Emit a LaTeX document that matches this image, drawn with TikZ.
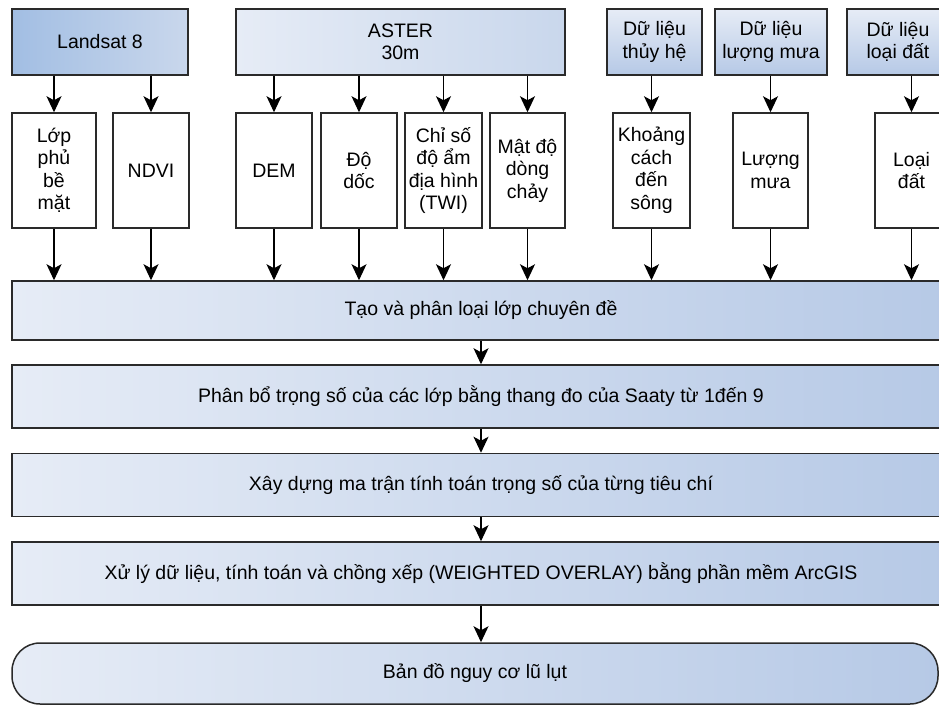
\documentclass[tikz,border=0pt]{standalone}
\usepackage{fontspec}
\setmainfont{Liberation Sans}
\usepackage{tikz}
\usepackage{xcolor}
\usetikzlibrary{arrows.meta,positioning,shapes,calc}
\definecolor{ink}{HTML}{2A2A2A}
\definecolor{bluedeep}{HTML}{A2BEE3}
\definecolor{bluemid}{HTML}{B6C9E6}
\definecolor{bluesoft}{HTML}{C9D7EC}
\definecolor{bluepale}{HTML}{E6ECF6}
\tikzset{
  srcbox/.style={draw=ink,line width=1.5pt,align=center,
                 font=\fontsize{19.5}{22.5}\selectfont,inner sep=2pt},
  layerbox/.style={draw=ink,fill=white,line width=1.5pt,align=center,
                   minimum height=115pt,inner sep=1pt,
                   font=\fontsize{19.5}{22.5}\selectfont},
  stagebox/.style={draw=ink,line width=1.5pt,align=center,
                   minimum width=938pt,minimum height=63pt,
                   left color=bluepale,right color=bluemid,
                   font=\fontsize{19.5}{22.5}\selectfont},
  endbox/.style={draw=ink,line width=1.5pt,align=center,rounded corners=28pt,
                 minimum width=926pt,minimum height=61pt,
                 left color=bluepale,right color=bluemid,
                 font=\fontsize{19.5}{22.5}\selectfont},
  flowarr/.style={-{Stealth[length=16pt,width=15pt,inset=4pt]},line width=1.2pt,color=black}
}

\begin{document}
\begin{tikzpicture}[x=1pt,y=-1pt]
  \useasboundingbox (0,0) rectangle (939,706);

  % data sources
  \node[srcbox,minimum width=176pt,minimum height=66pt,left color=bluedeep,right color=bluesoft]
    (landsat) at (100,42) {Landsat 8};
  \node[srcbox,minimum width=329pt,minimum height=66pt,left color=bluepale,right color=bluesoft]
    (aster) at (400.5,42) {ASTER\\30m};
  \node[srcbox,minimum width=95pt,minimum height=66pt,top color=bluepale,bottom color=bluemid]
    (hydro) at (654.5,42) {Dữ liệu\\thủy hệ};
  \node[srcbox,minimum width=112pt,minimum height=66pt,top color=bluepale,bottom color=bluemid]
    (rainsrc) at (771,42) {Dữ liệu\\lượng mưa};
  \node[srcbox,minimum width=102pt,minimum height=66pt,top color=bluepale,bottom color=bluemid]
    (soilsrc) at (898,42) {Dữ liệu\\loại đất};

  % thematic layers
  \node[layerbox,minimum width=84pt] (cover) at (54,170.5) {Lớp\\phủ\\bề\\mặt};
  \node[layerbox,minimum width=76pt] (ndvi) at (151,170.5) {NDVI};
  \node[layerbox,minimum width=76pt] (dem) at (274,170.5) {DEM};
  \node[layerbox,minimum width=76pt] (slope) at (359,170.5) {Độ\\dốc};
  \node[layerbox,minimum width=77pt] (twi) at (443.5,170.5) {Chỉ số\\độ ẩm\\địa hình\\(TWI)};
  \node[layerbox,minimum width=75pt] (drain) at (527.5,170.5) {Mật độ\\dòng\\chảy};
  \node[layerbox,minimum width=77pt] (river) at (651.5,170.5) {Khoảng\\cách\\đến\\sông};
  \node[layerbox,minimum width=75pt] (rain) at (770.5,170.5) {Lượng\\mưa};
  \node[layerbox,minimum width=73pt] (soil) at (911.5,170.5) {Loại\\đất};

  % processing steps
  \node[stagebox,minimum height=59pt] (classify) at (481,310.5) {Tạo và phân loại lớp chuyên đề};
  \node[stagebox] (weight) at (481,396.5) {Phân bổ trọng số của các lớp bằng thang đo của Saaty từ 1đến 9};
  \node[stagebox] (matrix) at (481,485) {Xây dựng ma trận tính toán trọng số của từng tiêu chí};
  \node[stagebox] (overlay) at (481,573.5) {Xử lý dữ liệu, tính toán và chồng xếp (WEIGHTED OVERLAY) bằng phần mềm ArcGIS};
  \node[endbox] (floodmap) at (475,673.5) {Bản đồ nguy cơ lũ lụt};

  % source -> layer
  \foreach \s/\l in {landsat/cover,landsat/ndvi,aster/dem,aster/slope,aster/twi,aster/drain,
                     hydro/river,rainsrc/rain,soilsrc/soil} {
    \draw[flowarr] (\l.north |- \s.south) -- (\l.north);
  }
  % layer -> classification
  \foreach \l in {cover,ndvi,dem,slope,twi,drain,river,rain,soil} {
    \draw[flowarr] (\l.south) -- (\l.south |- classify.north);
  }
  % step chain
  \draw[flowarr] (classify.south) -- (weight.north);
  \draw[flowarr] (weight.south) -- (matrix.north);
  \draw[flowarr] (matrix.south) -- (overlay.north);
  \draw[flowarr] (overlay.south) -- (overlay.south |- floodmap.north);
\end{tikzpicture}
\end{document}
